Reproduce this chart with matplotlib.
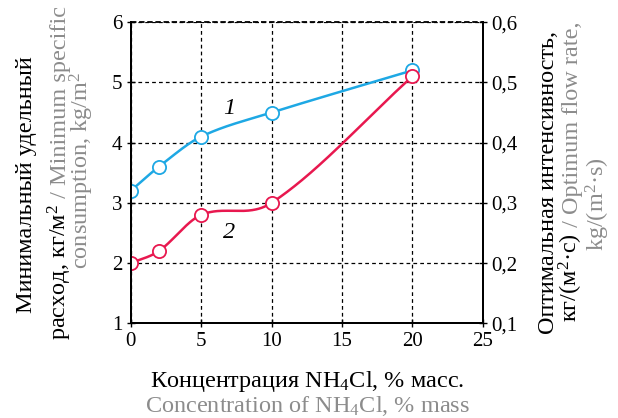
import numpy as np
import matplotlib
matplotlib.use("Agg")
import matplotlib.pyplot as plt

plt.rcParams['font.family'] = 'serif'
plt.rcParams['font.serif'] = ['Liberation Serif', 'DejaVu Serif']
plt.rcParams['mathtext.fontset'] = 'custom'
plt.rcParams['mathtext.rm'] = 'Liberation Serif'
plt.rcParams['mathtext.it'] = 'Liberation Serif:italic'

# data
conc = [0, 2, 5, 10, 20]
consumption = [3.2, 3.6, 4.1, 4.5, 5.2]      # curve 1, left axis
flow_rate = [0.20, 0.22, 0.28, 0.30, 0.51]   # curve 2, right axis
xticks = [0, 5, 10, 15, 20, 25]
yticks_left = [1, 2, 3, 4, 5, 6]
yticks_right = [0.1, 0.2, 0.3, 0.4, 0.5, 0.6]

BLUE = '#1ea8e4'
RED = '#e8184f'
GRAY = '#8c8c8c'
FS_TICK = 15
FS = 17.5
FAM = 'Liberation Serif'


def smooth(x, y, xs):
    # Catmull-Rom style cubic Hermite through the points
    x = np.asarray(x, float)
    y = np.asarray(y, float)
    m = np.empty_like(y)
    m[0] = (y[1] - y[0]) / (x[1] - x[0])
    m[-1] = (y[-1] - y[-2]) / (x[-1] - x[-2])
    m[1:-1] = (y[2:] - y[:-2]) / (x[2:] - x[:-2])
    k = np.clip(np.searchsorted(x, xs) - 1, 0, len(x) - 2)
    h = x[k + 1] - x[k]
    t = (xs - x[k]) / h
    h00 = 2 * t ** 3 - 3 * t ** 2 + 1
    h10 = t ** 3 - 2 * t ** 2 + t
    h01 = -2 * t ** 3 + 3 * t ** 2
    h11 = t ** 3 - t ** 2
    return h00 * y[k] + h10 * h * m[k] + h01 * y[k + 1] + h11 * h * m[k + 1]


fig = plt.figure(figsize=(6.18, 4.18), dpi=100)
ax = fig.add_axes([0.2115, 0.2266, 0.5696, 0.7201])
ax2 = ax.twinx()

xs = np.linspace(0, 20, 300)
ax.plot(xs, smooth(conc, consumption, xs), color=BLUE, lw=1.8, zorder=3)
ax.plot(conc, consumption, 'o', ms=9.5, mfc='white', mec=BLUE, mew=1.3, zorder=4)
fr = np.array(flow_rate) * 10
ax.plot(xs, smooth(conc, fr, xs), color=RED, lw=1.8, zorder=3)
ax.plot(conc, fr, 'o', ms=9.5, mfc='white', mec=RED, mew=1.3, zorder=4)

ax.text(7.0, 4.57, '1', fontsize=FS, style='italic', family=FAM, ha='center', va='center')
ax.text(7.0, 2.51, '2', fontsize=FS, style='italic', family=FAM, ha='center', va='center')

ax.set_xlim(0, 25)
ax.set_ylim(1, 6)
ax2.set_ylim(0.1, 0.6)
ax.set_xticks(xticks)
ax.set_yticks(yticks_left)
ax2.set_yticks(yticks_right)
ax2.set_yticklabels([f'{v:.1f}'.replace('.', ',') for v in yticks_right])

ax.grid(True, color='black', ls=(0, (3, 2.5)), lw=0.9)
for a in (ax, ax2):
    a.tick_params(direction='inout', length=6, width=1, labelsize=FS_TICK, pad=3)
    for s in ('left', 'right', 'bottom'):
        a.spines[s].set_linewidth(1.4)
    a.spines['top'].set_visible(False)
ax.axhline(6, color='black', ls=(0, (3, 1.5)), lw=1.3, clip_on=False)

# multi-colour labels, placed piece by piece
fig.canvas.draw()
renderer = fig.canvas.get_renderer()
W, H = fig.bbox.width, fig.bbox.height


def piece_len(s):
    t = fig.text(0, 0, s, fontsize=FS, family=FAM)
    w = t.get_window_extent(renderer).width
    t.remove()
    return w


def line(pieces, base_px, center_px, vertical):
    total = sum(piece_len(s) for s, _ in pieces)
    pos = center_px - total / 2
    for s, c in pieces:
        if vertical:
            # pos counts up from the bottom of the figure
            fig.text(base_px / W, pos / H, s, color=c, fontsize=FS, family=FAM,
                     rotation=90, rotation_mode='anchor', ha='left', va='baseline')
        else:
            fig.text(pos / W, 1 - base_px / H, s, color=c, fontsize=FS, family=FAM,
                     ha='left', va='baseline')
        pos += piece_len(s)


# left label
line([('Минимальный удельный', 'black')], 32, H - 185, True)
line([('расход, кг/м$^2$', 'black'), (' / Minimum specific', GRAY)], 66, H - 173, True)
line([('consumption, kg/m$^2$', GRAY)], 89, H - 170, True)

# right label
line([('Оптимальная интенсивность,', 'black')], 554, H - 183, True)
line([('кг/(м$^2$·с)', 'black'), (' / Optimum flow rate,', GRAY)], 578, H - 172, True)
line([('kg/(m$^2$·s)', GRAY)], 605, H - 204, True)

# x label
line([('Концентрация NH$_4$Cl, % масс.', 'black')], 387, 307, False)
line([('Concentration of NH$_4$Cl, % mass', GRAY)], 412, 307, False)

fig.savefig('out.png', dpi=100)
